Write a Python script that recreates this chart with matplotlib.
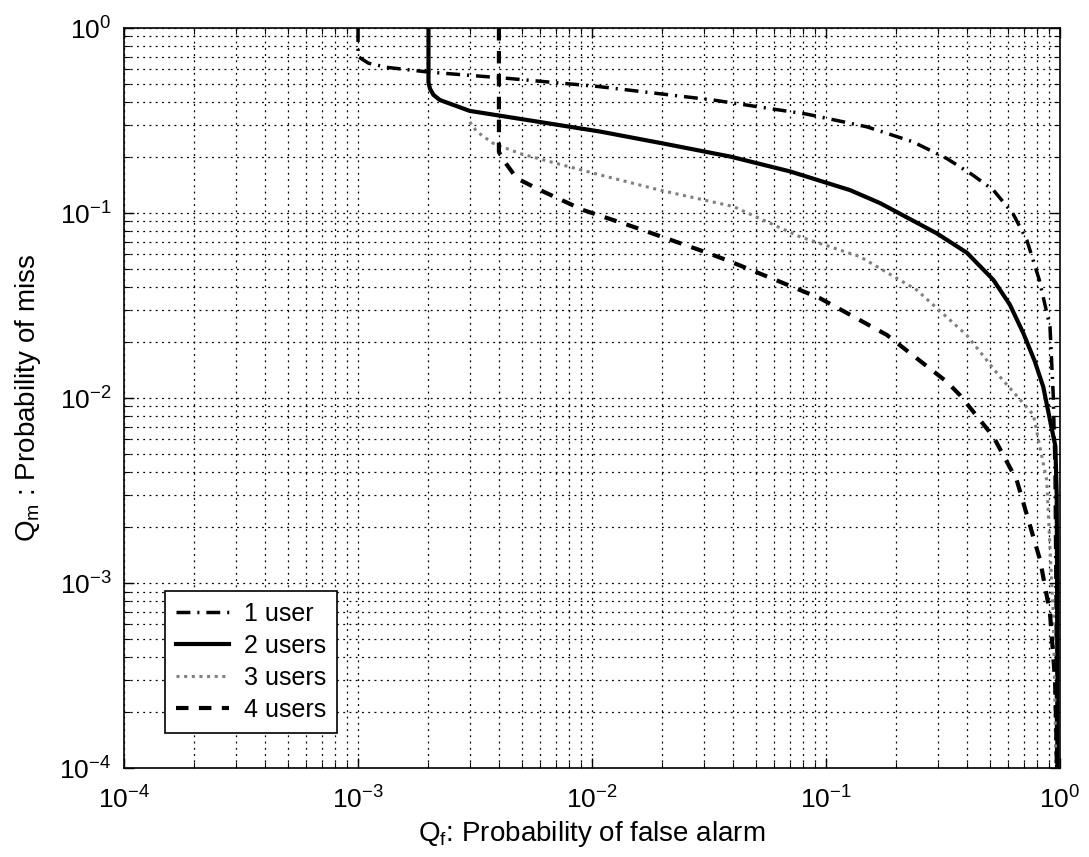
import matplotlib
matplotlib.use("Agg")
import matplotlib.pyplot as plt
from matplotlib.ticker import LogLocator, NullFormatter

plt.rcParams['font.family'] = ['Liberation Sans', 'DejaVu Sans']
plt.rcParams['mathtext.fontset'] = 'custom'
plt.rcParams['mathtext.rm'] = 'Liberation Sans'
plt.rcParams['mathtext.it'] = 'Liberation Sans'
plt.rcParams['mathtext.bf'] = 'Liberation Sans:bold'

# ---- data ----
labels = ["1 user", "2 users", "3 users", "4 users"]

x1 = [1.0e-3, 1.0e-3, 1.107e-3, 1.326e-3, 2.0e-3, 4.32e-3, 1.047e-2, 3.3e-2, 8.27e-2, 0.1493,
      0.235, 0.328, 0.423, 0.519, 0.63, 0.721, 0.815, 0.906, 0.936, 0.952, 0.962, 0.968]
y1 = [1.0, 0.701, 0.646, 0.613, 0.578, 0.535, 0.484, 0.408, 0.3425, 0.2925,
      0.2427, 0.1972, 0.1607, 0.133, 0.099, 0.0715, 0.0436, 0.0243, 0.0102, 0.004, 7.4e-4, 1e-4]

x2 = [2.0e-3, 2.0e-3, 2.03e-3, 2.1e-3, 2.24e-3, 3.0e-3, 4.05e-3, 1.08e-2, 2.0e-2, 3.89e-2,
      7.0e-2, 0.1266, 0.17, 0.297, 0.4, 0.519, 0.61, 0.697, 0.78, 0.848, 0.906, 0.955,
      0.968, 0.972, 0.974]
y2 = [1.0, 0.51, 0.47, 0.435, 0.408, 0.3565, 0.3357, 0.2758, 0.238, 0.202,
      0.168, 0.133, 0.1132, 0.0777, 0.061, 0.0435, 0.032, 0.0224, 0.0158, 0.01148, 0.0076, 0.0055,
      0.003, 7.4e-4, 1e-4]

x3 = [3.0e-3, 3.22e-3, 3.79e-3, 4.92e-3, 6.62e-3, 1.082e-2, 1.95e-2, 4.02e-2, 7.74e-2, 0.1397,
      0.244, 0.3994, 0.554, 0.769, 0.877, 0.935, 0.952, 0.96]
y3 = [0.311, 0.2749, 0.2377, 0.2097, 0.1894, 0.1607, 0.133, 0.1084, 0.0744, 0.0581,
      0.0384, 0.02186, 0.01302, 0.00812, 0.0036, 6.86e-4, 2.1e-4, 1e-4]

x4 = [4.0e-3, 4.0e-3, 4.18e-3, 4.77e-3, 6.0e-3, 9.18e-3, 1.5e-2, 2.89e-2, 3.76e-2, 6.57e-2,
      9.43e-2, 0.1817, 0.328, 0.3737, 0.519, 0.653, 0.822, 0.906, 0.952, 0.963, 0.97]
y4 = [1.0, 0.2136, 0.1933, 0.154, 0.133, 0.1037, 0.0843, 0.063, 0.0557, 0.0418,
      0.0346, 0.02195, 0.01225, 0.01036, 0.00618, 0.0036, 0.00133, 6.86e-4, 3.0e-4, 1.6e-4, 1e-4]

xlabel = "Q$_f$: Probability of false alarm"
ylabel = "Q$_m$ : Probability of miss"

fig = plt.figure(figsize=(10.89, 8.57), dpi=100)
ax = fig.add_axes([0.1139, 0.1038, 0.8595, 0.8635])

ax.plot(x1, y1, color='black', lw=2.5, ls=(0, (4, 2, 0.6, 2)), label=labels[0])
ax.plot(x2, y2, color='black', lw=3.0, ls='-', label=labels[1])
ax.plot(x3, y3, color='#808080', lw=2.2, ls=(0, (1, 1.5)), label=labels[2])
ax.plot(x4, y4, color='black', lw=3.0, ls=(0, (3, 2.5)), label=labels[3])

ax.set_xscale('log')
ax.set_yscale('log')
ax.set_xlim(1e-4, 1)
ax.set_ylim(1e-4, 1)

ax.xaxis.set_major_locator(LogLocator(base=10, numticks=10))
ax.yaxis.set_major_locator(LogLocator(base=10, numticks=10))
ax.xaxis.set_minor_locator(LogLocator(base=10, subs=range(2, 10), numticks=20))
ax.yaxis.set_minor_locator(LogLocator(base=10, subs=range(2, 10), numticks=20))
ax.xaxis.set_minor_formatter(NullFormatter())
ax.yaxis.set_minor_formatter(NullFormatter())

ax.grid(True, which='both', color='black', ls=(0, (1.5, 3.5)), lw=0.9)
ax.tick_params(which='both', direction='in', top=True, right=True)
ax.tick_params(which='major', length=7, width=1, labelsize=19)
ax.tick_params(axis='x', which='major', pad=13)
ax.tick_params(axis='y', which='major', pad=9)
ax.tick_params(which='minor', length=4, width=0.8)
for s in ax.spines.values():
    s.set_linewidth(1.2)

ax.set_xlabel(xlabel, fontsize=20, labelpad=4)
ax.set_ylabel(ylabel, fontsize=20, labelpad=12)

leg = ax.legend(loc='lower left', bbox_to_anchor=(0.0438, 0.047), fontsize=18,
                frameon=True, fancybox=False, edgecolor='black', framealpha=1,
                handlelength=2.1, borderpad=0.45, labelspacing=0.32, handletextpad=0.6,
                borderaxespad=0)
leg.get_frame().set_linewidth(1.2)

fig.savefig("out.png", dpi=100)
